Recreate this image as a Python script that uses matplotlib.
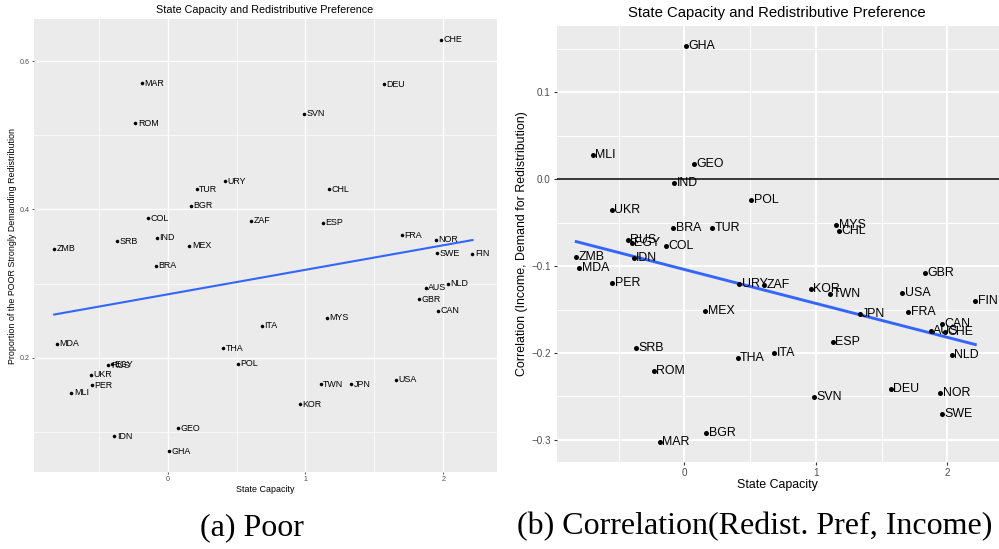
import numpy as np
import matplotlib
matplotlib.use("Agg")
import matplotlib.pyplot as plt
from matplotlib.ticker import FixedLocator, FixedFormatter

plt.rcParams['font.family'] = ['Liberation Sans', 'DejaVu Sans']

countries = ["AUS", "BGR", "BRA", "CAN", "CHE", "CHL", "COL", "DEU", "EGY", "ESP",
             "FIN", "FRA", "GBR", "GEO", "GHA", "IDN", "IND", "ITA", "JPN", "KOR",
             "MAR", "MDA", "MEX", "MLI", "MYS", "NLD", "NOR", "PER", "POL", "ROM",
             "RUS", "SRB", "SVN", "SWE", "THA", "TUR", "TWN", "UKR", "URY", "USA",
             "ZAF", "ZMB"]

state_capacity = [1.873, 0.166, -0.087, 1.961, 1.983, 1.173, -0.144, 1.568, -0.403, 1.126,
                  2.212, 1.702, 1.826, 0.074, 0.010, -0.386, -0.078, 0.684, 1.333, 0.961,
                  -0.188, -0.802, 0.157, -0.699, 1.154, 2.031, 1.944, -0.550, 0.507, -0.235,
                  -0.431, -0.367, 0.987, 1.958, 0.404, 0.210, 1.110, -0.554, 0.415, 1.657,
                  0.604, -0.823]

poor_share = [0.294, 0.405, 0.324, 0.263, 0.629, 0.427, 0.388, 0.569, 0.1915, 0.382,
              0.340, 0.365, 0.279, 0.105, 0.074, 0.094, 0.362, 0.243, 0.164, 0.137,
              0.570, 0.219, 0.351, 0.153, 0.254, 0.300, 0.359, 0.163, 0.192, 0.516,
              0.190, 0.357, 0.529, 0.341, 0.213, 0.427, 0.164, 0.177, 0.438, 0.170,
              0.385, 0.347]

corr_income = [-0.1748, -0.2926, -0.0565, -0.167, -0.176, -0.060, -0.077, -0.2412, -0.073, -0.187,
               -0.1406, -0.1529, -0.108, 0.018, 0.1539, -0.091, -0.0046, -0.200, -0.1548, -0.126,
               -0.3023, -0.102, -0.1514, 0.028, -0.053, -0.2024, -0.2458, -0.1198, -0.0238, -0.2209,
               -0.070, -0.194, -0.2508, -0.2707, -0.206, -0.0565, -0.1318, -0.0354, -0.1206, -0.131,
               -0.1221, -0.0892]

title = "State Capacity and Redistributive Preference"
xlabel = "State Capacity"
ylabel_left = "Proportion of the POOR Strongly Demanding Redistribution"
ylabel_right = "Correlation (Income, Demand for Redistribution)"
caption_left = "(a) Poor"
caption_right = "(b) Correlation(Redist. Pref, Income)"

x_major = [0, 1, 2]
x_minor = [-0.5, 0.5, 1.5]
yl_major = [0.2, 0.4, 0.6]
yl_minor = [0.1, 0.3, 0.5]
yr_major = [-0.3, -0.2, -0.1, 0.0, 0.1]
yr_minor = [-0.25, -0.15, -0.05, 0.05, 0.15]

W, H = 999, 549
fig = plt.figure(figsize=(W / 100, H / 100), dpi=100)


def px_axes(x0, y0, x1, y1):
    return fig.add_axes([x0 / W, 1 - y1 / H, (x1 - x0) / W, (y1 - y0) / H])


def style(ax, s, ymaj, ymin, yfmt):
    ax.set_facecolor('#EBEBEB')
    for sp in ax.spines.values():
        sp.set_visible(False)
    ax.set_xticks(x_major)
    ax.set_xticklabels([str(v) for v in x_major])
    ax.set_xticks(x_minor, minor=True)
    ax.set_yticks(ymaj)
    ax.set_yticklabels([yfmt(v) for v in ymaj])
    ax.set_yticks(ymin, minor=True)
    ax.grid(True, which='major', color='white', lw=1.4 * s)
    ax.grid(True, which='minor', color='white', lw=0.7 * s)
    ax.set_axisbelow(True)
    ax.tick_params(which='major', length=2.2 * s, width=0.8 * s, color='#333333',
                   labelsize=7.1 * s, labelcolor='#4D4D4D', pad=2.0 * s)
    ax.tick_params(which='minor', length=0)


def fmt_r(v):
    return ("\u2212" if v < -1e-9 else "") + f"{abs(v):.1f}"


# Left panel
s = 0.72
axL = px_axes(34, 19, 497, 472)
style(axL, s, yl_major, yl_minor, lambda v: f"{v:.1f}")
axL.set_xlim(-0.970, 2.390)
axL.set_ylim(0.0459, 0.6567)
x = np.array(state_capacity)
yL = np.array(poor_share)
axL.scatter(x, yL, s=6.5, color='black', zorder=3, linewidths=0)
for c, xi, yi in zip(countries, x, yL):
    axL.annotate(c, (xi, yi), xytext=(1.8, 0), textcoords='offset points',
                 ha='left', va='center', fontsize=8.9 * s, color='black', zorder=4)
b = np.polyfit(x, yL, 1)
xs = np.array([x.min(), x.max()])
axL.plot(xs, np.polyval(b, xs), color='#3366FF', lw=2.1 * s, zorder=2)

fig.text(265 / W, 1 - 10 / H, title, ha='center', va='center', fontsize=10.7 * s)
fig.text(265 / W, 1 - 489 / H, xlabel, ha='center', va='center', fontsize=8.9 * s)
fig.text(13 / W, 1 - 245.5 / H, ylabel_left, ha='center', va='center', rotation=90,
         fontsize=8.9 * s)

# Right panel
s = 1.0
axR = px_axes(556.7, 26, 999, 461.7)
style(axR, s, yr_major, yr_minor, fmt_r)
axR.set_xlim(-0.972, 2.392)
axR.set_ylim(-0.3253, 0.1766)
yR = np.array(corr_income)
axR.axhline(0, color='black', lw=1.1, zorder=2)
axR.scatter(x, yR, s=13, color='black', zorder=3, linewidths=0)
for c, xi, yi in zip(countries, x, yR):
    axR.annotate(c, (xi, yi), xytext=(1.8, 0), textcoords='offset points',
                 ha='left', va='center', fontsize=8.9, color='black', zorder=4)
b = np.polyfit(x, yR, 1)
axR.plot(xs, np.polyval(b, xs), color='#3366FF', lw=2.1, zorder=2)

fig.text(777 / W, 1 - 13.3 / H, title, ha='center', va='center', fontsize=10.7)
fig.text(777 / W, 1 - 485 / H, xlabel, ha='center', va='center', fontsize=8.9)
fig.text(522 / W, 1 - 244 / H, ylabel_right, ha='center', va='center', rotation=90,
         fontsize=8.9)

# Captions
fig.text(252 / W, 1 - 528 / H, caption_left, ha='center', va='center', fontsize=23,
         family='Liberation Serif')
fig.text(755 / W, 1 - 527 / H, caption_right, ha='center', va='center', fontsize=23,
         family='Liberation Serif')

fig.savefig('out.png', dpi=100, facecolor='white')
